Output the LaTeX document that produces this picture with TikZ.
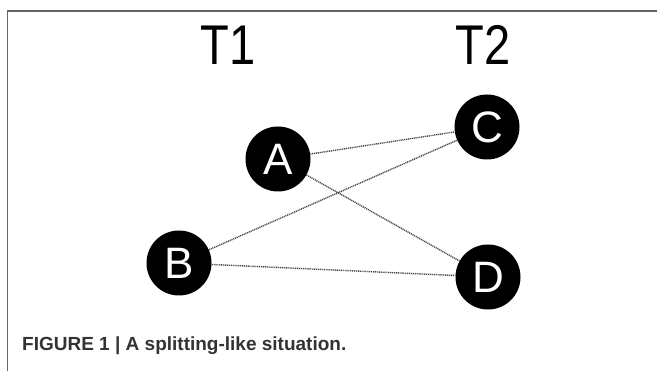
\documentclass[tikz,border=0pt]{standalone}
\usepackage{fontspec}
\setmainfont{Liberation Sans}
\usetikzlibrary{positioning}

\begin{document}
\begin{tikzpicture}[x=1pt,y=1pt,
    vertex/.style={circle, fill=black, text=white, minimum size=65pt, inner sep=0pt, font=\fontsize{44}{44}\selectfont},
    timelabel/.style={xscale=0.84, transform shape, font=\fontsize{56}{56}\selectfont},
    link/.style={draw=black!72, line width=1.4pt, dash pattern=on 1.1pt off 0.8pt}]

\useasboundingbox (0,0) rectangle (657,371);

% Frame (top and left)
\draw[black!60, line width=1.6pt] (7.5,0) -- (7.5,360) -- (657,360);

% Time labels
\node[timelabel] (t1) at (228,326) {T1};
\node[timelabel] (t2) at (483,326) {T2};

% Nodes at T1 and T2
\node[vertex] (A) at (278,212) {A};
\node[vertex] (B) at (179,108) {B};
\node[vertex] (C) at (487,244) {C};
\node[vertex] (D) at (488,94) {D};

% Links
\foreach \s/\t in {A/C, A/D, B/C, B/D}
{
    \draw[link] (\s) -- (\t);
}

% Caption
\node[anchor=base west, inner sep=0pt, text=black!80] (caption) at (22,20)
    {\fontsize{19}{19}\selectfont\bfseries FIGURE 1 | A splitting-like situation.};

\end{tikzpicture}
\end{document}
